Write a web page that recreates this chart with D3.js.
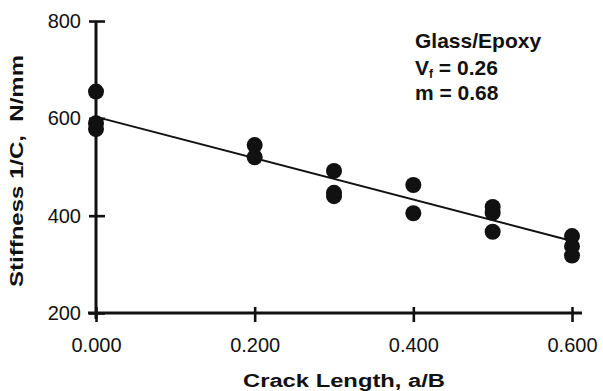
<!DOCTYPE html>
<html><head><meta charset="utf-8">
<script src="https://cdn.jsdelivr.net/npm/d3@7"></script>
<style>
body{margin:0;background:#fff;}
svg{display:block;}
text{font-family:"Liberation Sans",Arial,Helvetica,sans-serif;fill:#111;}
</style></head>
<body><svg id="c" width="603" height="391"></svg>
<script>
const crackX = [0,0,0,0.2,0.2,0.3,0.3,0.3,0.4,0.4,0.5,0.5,0.5,0.6,0.6,0.6];
const stiffness = [655,590,578,545,520,492,447,440,463,405,418,406,367,358,337,318];
const fitX = [0,0.6];
const fitY = [603,348];
const xTicks = [0,0.2,0.4,0.6];
const yTicks = [200,400,600,800];
const xTickLabels = ["0.000","0.200","0.400","0.600"];
const annotation = ["Glass/Epoxy","V","m = 0.68"];

const svg = d3.select("#c");
const x = d3.scaleLinear().domain([0,0.6]).range([96,572]);
const y = d3.scaleLinear().domain([200,800]).range([313,21]);
const ink = "#111";

// axes
const yAxis = d3.axisLeft(y).tickValues(yTicks).tickFormat(d3.format("d")).tickSize(7).tickPadding(10);
const gy = svg.append("g").attr("transform",`translate(${x(0)},0)`).call(yAxis);
gy.select(".domain").remove();
gy.selectAll(".tick line").attr("x1",-7).attr("x2",9).attr("stroke",ink).attr("stroke-width",2.6);
gy.selectAll(".tick text").attr("font-size",20).attr("x",-15).attr("fill",ink);

const xAxis = d3.axisBottom(x).tickValues(xTicks).tickFormat((d,i)=>xTickLabels[i]).tickSize(7);
const gx = svg.append("g").attr("transform",`translate(0,${y(200)})`).call(xAxis);
gx.select(".domain").remove();
gx.selectAll(".tick line").attr("y1",-6).attr("y2",9).attr("stroke",ink).attr("stroke-width",2.6);
gx.selectAll(".tick text").attr("font-size",20).attr("y",39).attr("dy",0).attr("fill",ink);

// axis lines
svg.append("line").attr("x1",x(0)).attr("x2",x(0)).attr("y1",y(800)).attr("y2",y(200)+6)
  .attr("stroke",ink).attr("stroke-width",3);
svg.append("line").attr("x1",x(0)-8).attr("x2",x(0.6)+10).attr("y1",y(200)).attr("y2",y(200))
  .attr("stroke",ink).attr("stroke-width",3);

// fit line
svg.append("path").datum(fitX.map((d,i)=>[d,fitY[i]]))
  .attr("d",d3.line().x(d=>x(d[0])).y(d=>y(d[1])))
  .attr("fill","none").attr("stroke",ink).attr("stroke-width",2);

// points
svg.append("g").selectAll("circle").data(crackX).join("circle")
  .attr("cx",d=>x(d)).attr("cy",(d,i)=>y(stiffness[i])).attr("r",8).attr("fill",ink);

// titles
svg.append("text").attr("x",344).attr("y",387).attr("text-anchor","middle")
  .attr("font-size",18).attr("font-weight","bold").attr("textLength",202).attr("lengthAdjust","spacingAndGlyphs")
  .text("Crack Length, a/B");
svg.append("text").attr("transform","translate(23,171) rotate(-90)").attr("text-anchor","middle")
  .attr("font-size",18).attr("font-weight","bold").attr("textLength",232).attr("lengthAdjust","spacingAndGlyphs")
  .attr("xml:space","preserve").style("white-space","pre")
  .text("Stiffness 1/C,  N/mm");

// annotation
const ann = svg.append("g").attr("font-weight","bold").attr("font-size",21);
ann.append("text").attr("x",415).attr("y",48).text(annotation[0]);
const t2 = ann.append("text").attr("x",415).attr("y",75);
t2.append("tspan").text(annotation[1]);
t2.append("tspan").attr("font-size",12).attr("dy",3).text("f");
t2.append("tspan").attr("dy",-3).text(" = 0.26");
ann.append("text").attr("x",415).attr("y",100).text(annotation[2]);
</script></body></html>
